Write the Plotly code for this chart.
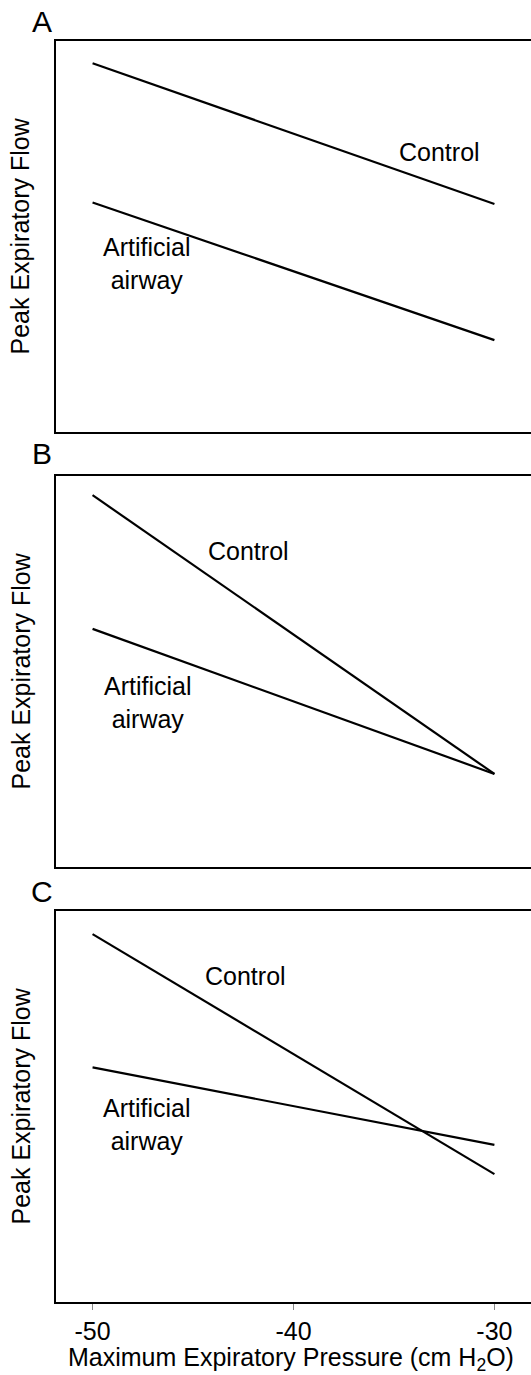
import plotly.graph_objects as go

# Data (arbitrary flow units, 0-100)
pressure = [-50, -30]
ctrl_A = [94.3, 58.3]
art_A = [58.7, 23.5]
ctrl_B = [95.1, 23.8]
art_B = [60.9, 23.8]
ctrl_C = [94.1, 32.7]
art_C = [60.0, 40.2]
tick_vals = [-50, -40, -30]
tick_text = ["-50", "-40", "-30"]
panel_letters = ["A", "B", "C"]

W, H = 531, 1375
FONT = "Liberation Sans, Arial, sans-serif"
FS = 25

def py(p):
    return 1 - p / H

panels = [(41, 432), (476, 867), (911, 1302)]

fig = go.Figure()
series = [(ctrl_A, art_A), (ctrl_B, art_B), (ctrl_C, art_C)]
for i, (c, a) in enumerate(series):
    xa = "x" if i == 0 else f"x{i+1}"
    ya = "y" if i == 0 else f"y{i+1}"
    for vals in (c, a):
        fig.add_trace(go.Scatter(x=pressure, y=vals, mode="lines",
                                 line=dict(color="black", width=2.2),
                                 xaxis=xa, yaxis=ya, showlegend=False,
                                 hoverinfo="skip"))

layout = dict(width=W, height=H, margin=dict(l=0, r=0, t=0, b=0),
              plot_bgcolor="white", paper_bgcolor="white",
              font=dict(family=FONT, size=FS, color="black"))
for i, (top, bot) in enumerate(panels):
    sfx = "" if i == 0 else str(i + 1)
    last = i == 2
    layout["xaxis" + sfx] = dict(
        domain=[56 / W, 1.0], range=[-51.82, -28.18],
        showline=True, linecolor="black", linewidth=2.2, mirror=True,
        showgrid=False, zeroline=False,
        tickvals=tick_vals if last else [], ticktext=tick_text if last else [],
        ticks="outside" if last else "", ticklen=6, tickwidth=1, tickcolor="#888",
        showticklabels=last, tickfont=dict(size=FS),
        anchor="y" + sfx, fixedrange=True)
    layout["yaxis" + sfx] = dict(
        domain=[py(bot), py(top)], range=[0, 100],
        showline=True, linecolor="black", linewidth=2.2, mirror=False,
        showgrid=False, zeroline=False, showticklabels=False, ticks="",
        anchor="x" + sfx, fixedrange=True)
fig.update_layout(**layout)

ann = []
letter_y = [21, 454, 891]
for i, (top, bot) in enumerate(panels):
    ann.append(dict(text=panel_letters[i], x=42 / W, y=py(letter_y[i]), xref="paper", yref="paper",
                    showarrow=False, font=dict(size=30), xanchor="center", yanchor="middle"))
    ann.append(dict(text="Peak Expiratory Flow", x=20 / W, y=py((top + bot) / 2), xref="paper", yref="paper",
                    showarrow=False, textangle=-90, font=dict(size=FS), xanchor="center", yanchor="middle"))

labels = [
    ("x", "y", "Control", -32.71, 71.6),
    ("x", "y", "Artificial<br>airway", -47.29, 43.2),
    ("x2", "y2", "Control", -42.26, 80.8),
    ("x2", "y2", "Artificial<br>airway", -47.24, 42.2),
    ("x3", "y3", "Control", -42.41, 83.5),
    ("x3", "y3", "Artificial<br>airway", -47.29, 45.3),
]
for xr, yr, t, x, y in labels:
    ann.append(dict(text=t, x=x, y=y, xref=xr, yref=yr, showarrow=False,
                    font=dict(size=FS), xanchor="center", yanchor="middle"))

ann.append(dict(text="Maximum Expiratory Pressure (cm H<sub>2</sub>O)", x=(56 + 531) / 2 / W - 0.005, y=py(1359),
                xref="paper", yref="paper", showarrow=False, font=dict(size=FS),
                xanchor="center", yanchor="middle"))
fig.update_layout(annotations=ann)

fig.write_html("out.html")
